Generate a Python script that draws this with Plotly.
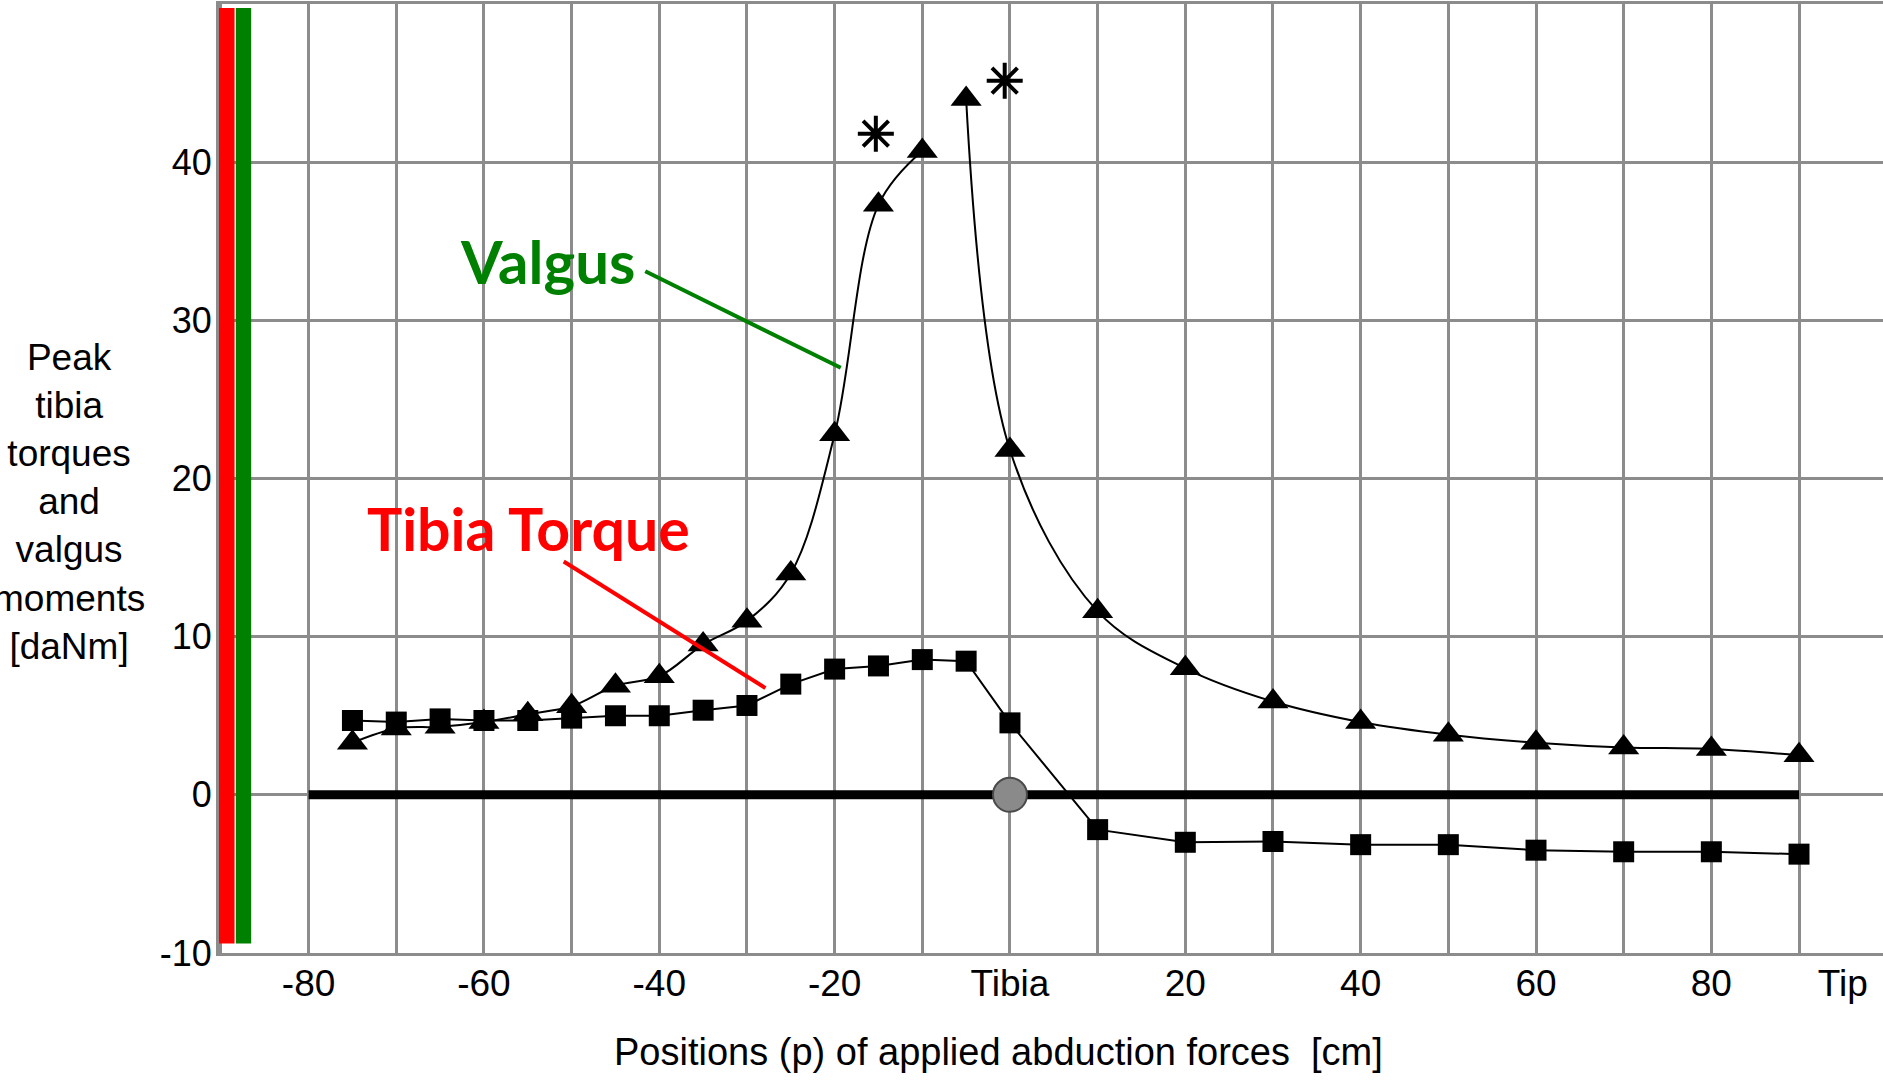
import plotly.graph_objects as go

# ---------------- data ----------------
positions = [-75, -70, -65, -60, -55, -50, -45, -40, -35, -30, -25, -20, -15, -10, -5,
             0, 10, 20, 30, 40, 50, 60, 70, 80, 90]
valgus = [3.3, 4.2, 4.3, 4.6, 5.1, 5.6, 6.9, 7.5, 9.5, 11.0, 14.0, 22.8, 37.3, 40.7, 44.0,
          21.8, 11.6, 8.0, 5.9, 4.6, 3.8, 3.3, 3.0, 2.9, 2.5]
torque = [4.7, 4.6, 4.8, 4.7, 4.7, 4.85, 5.0, 5.0, 5.35, 5.65, 7.0, 7.95, 8.15, 8.55, 8.45,
          4.55, -2.2, -3.0, -2.95, -3.15, -3.15, -3.5, -3.6, -3.6, -3.75]
valgus_break_after = -10          # the valgus curve is interrupted between -10 and -5

star_x = [-15.3, -0.6]            # significance asterisks
star_y = [41.8, 45.15]

tibia_x = [0]                     # tibia reference point
tibia_y = [0]
baseline_x = [-80, 90]            # thick zero line
baseline_y = [0, 0]

xtick_vals = [-80, -60, -40, -20, 0, 20, 40, 60, 80, 95]
xtick_text = ["-80", "-60", "-40", "-20", "Tibia", "20", "40", "60", "80", "Tip"]
ytick_vals = [-10, 0, 10, 20, 30, 40]
ytick_text = ["-10", "0", "10", "20", "30", "40"]

# ---------------- layout geometry ----------------
W, H = 1883, 1081
L, R, T, B = 219, 0, 4, 128
PW, PH = W - L - R, H - T - B
X_RANGE = [-90.22, 99.58]
Y_RANGE = [-10, 50]


def px(xp):
    return (xp - L) / PW


def py(yp):
    return 1 - (yp - T) / PH


GRID = "#8c8c8c"
FONT = "Liberation Sans, Arial, Helvetica, sans-serif"
BOLD = "Lato, Calibri, sans-serif"

# valgus with gap
vx, vy = [], []
for xv, yv in zip(positions, valgus):
    vx.append(xv)
    vy.append(yv)
    if xv == valgus_break_after:
        vx.append(None)
        vy.append(None)

fig = go.Figure()

fig.add_trace(go.Scatter(x=baseline_x, y=baseline_y, mode="lines",
                         line=dict(color="black", width=9), hoverinfo="skip", showlegend=False))

fig.add_trace(go.Scatter(x=positions, y=torque, mode="lines+markers", name="Tibia torque",
                         line=dict(color="black", width=2),
                         marker=dict(symbol="square", size=21, color="black"),
                         showlegend=False))

fig.add_trace(go.Scatter(x=vx, y=vy, mode="lines", name="Valgus",
                         line=dict(color="black", width=2, shape="spline", smoothing=1),
                         connectgaps=False, showlegend=False))
fig.add_trace(go.Scatter(x=positions, y=valgus, mode="markers", name="Valgus",
                         marker=dict(symbol="triangle-up", size=27, color="black"),
                         showlegend=False))

fig.add_trace(go.Scatter(x=star_x, y=star_y, mode="markers",
                         marker=dict(symbol="asterisk-open", size=30, color="black",
                                     line=dict(color="black", width=4)),
                         showlegend=False, hoverinfo="skip"))

fig.add_trace(go.Scatter(x=tibia_x, y=tibia_y, mode="markers", xaxis="x2",
                         marker=dict(symbol="circle", size=34, color="#8a8a8a",
                                     line=dict(color="#4a4a4a", width=2)),
                         showlegend=False))

# coloured vertical bars on the left edge
fig.add_shape(type="rect", xref="x", yref="y", x0=-90.22, x1=-88.45, y0=-9.4, y1=49.75,
              fillcolor="#ff0000", line=dict(width=0), layer="above")
fig.add_shape(type="rect", xref="x", yref="y", x0=-88.3, x1=-86.55, y0=-9.4, y1=49.75,
              fillcolor="#008000", line=dict(width=0), layer="above")

# pointer lines
fig.add_shape(type="line", xref="x", yref="y", x0=-41.6, y0=33.1, x1=-19.3, y1=27.0,
              line=dict(color="#008000", width=4), layer="above")
fig.add_shape(type="line", xref="x", yref="y", x0=-50.9, y0=14.75, x1=-27.9, y1=6.75,
              line=dict(color="#ff0000", width=4), layer="above")

annotations = [
    dict(text="<b>Valgus</b>", x=-52.8, y=33.75, xref="x", yref="y", showarrow=False,
         xanchor="center", yanchor="middle", font=dict(family=BOLD, size=60, color="#008000")),
    dict(text="<b>Tibia Torque</b>", x=-54.9, y=16.85, xref="x", yref="y", showarrow=False,
         xanchor="center", yanchor="middle", font=dict(family=BOLD, size=59, color="#ff0000")),
    dict(text="Peak<br>tibia<br>torques<br>and<br>valgus<br>moments<br>[daNm]",
         x=px(68.5), y=py(502), xref="paper", yref="paper", showarrow=False, align="center",
         xanchor="center", yanchor="middle", font=dict(family=FONT, size=37, color="black")),
    dict(text="Positions (p) of applied abduction forces \u00a0[cm]",
         x=px(998), y=py(1052), xref="paper", yref="paper", showarrow=False,
         xanchor="center", yanchor="middle", font=dict(family=FONT, size=38, color="black")),
]

fig.update_layout(
    width=W, height=H,
    margin=dict(l=L, r=R, t=T, b=B, pad=0),
    paper_bgcolor="white", plot_bgcolor="white",
    showlegend=False,
    annotations=annotations,
    xaxis=dict(range=X_RANGE, tickmode="linear", tick0=-90, dtick=10,
               showgrid=True, gridcolor=GRID, gridwidth=3,
               showticklabels=False, ticks="", zeroline=False,
               showline=True, linecolor=GRID, linewidth=3, mirror=True),
    xaxis2=dict(range=X_RANGE, overlaying="x", anchor="y", side="bottom",
                tickmode="array", tickvals=xtick_vals, ticktext=xtick_text,
                showgrid=False, zeroline=False, showline=False, ticks="",
                ticklabelstandoff=5,
                tickfont=dict(family=FONT, size=37, color="black")),
    yaxis=dict(range=Y_RANGE, tickmode="array", tickvals=ytick_vals, ticktext=ytick_text,
               showgrid=True, gridcolor=GRID, gridwidth=3, zeroline=False,
               showline=True, linecolor=GRID, linewidth=3, mirror=False, ticks="",
               ticklabelstandoff=-3,
               tickfont=dict(family=FONT, size=36, color="black")),
)

fig.write_html("out.html",
               config={"displayModeBar": False},
               post_script="document.body.style.margin='0px';document.body.style.overflow='hidden';")
